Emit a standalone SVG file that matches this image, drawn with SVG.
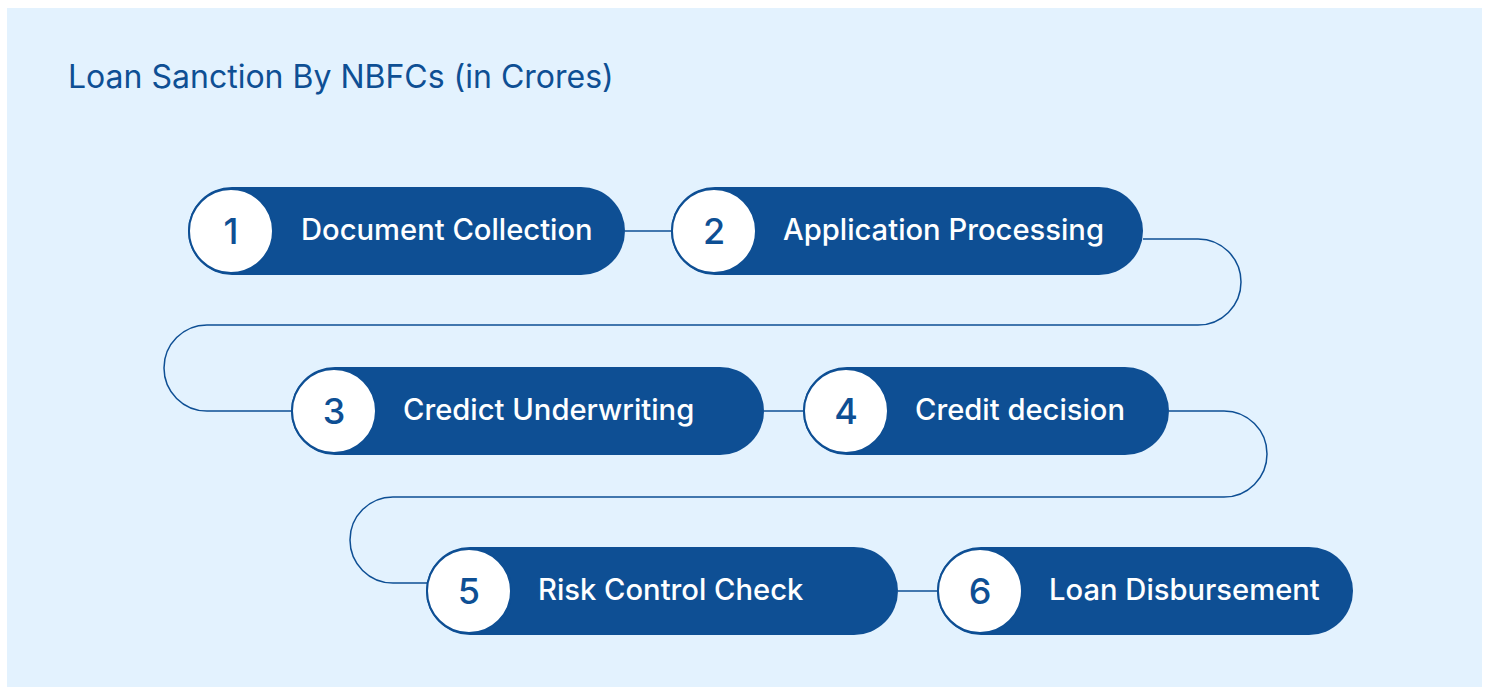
<svg xmlns="http://www.w3.org/2000/svg" width="1490" height="687" viewBox="0 0 1490 687">
  <style>
    .pill { fill: #0e4f94; }
    .badge { fill: #ffffff; stroke: #0e4f94; stroke-width: 2; }
    .num { font-family: Inter, "Liberation Sans", sans-serif; font-size: 36px; font-weight: 500; fill: #0e4f94; text-anchor: middle; }
    .label { font-family: Inter, "Liberation Sans", sans-serif; font-size: 29.2px; font-weight: 500; fill: #ffffff; }
    .title { font-family: Inter, "Liberation Sans", sans-serif; font-size: 32px; fill: #0e4f94; }
    .link { fill: none; stroke: #0e4f94; stroke-width: 1.5; }
  </style>

  <rect x="0" y="0" width="1490" height="687" fill="#ffffff"/>
  <rect x="7" y="8" width="1475" height="679" fill="#e3f2fe"/>

  <text class="title" x="68" y="88">Loan Sanction By NBFCs (in Crores)</text>

  <!-- connectors between the steps -->
  <g id="connectors">
    <path class="link" d="M625 231 H672"/>
    <path class="link" d="M1143 239 H1198 A43 43 0 0 1 1198 325 H207 A43 43 0 0 0 207 411 H292"/>
    <path class="link" d="M764 411 H803"/>
    <path class="link" d="M1169 411 H1224 A43 43 0 0 1 1224 497 H393 A43 43 0 0 0 393 583 H428"/>
    <path class="link" d="M898 591 H938"/>
  </g>

  <g id="step1">
    <rect class="pill" x="188" y="187" width="437" height="88" rx="44"/>
    <circle class="badge" cx="231" cy="231" r="42"/>
    <text class="num" x="231" y="244">1</text>
    <text class="label" x="301" y="240">Document Collection</text>
  </g>

  <g id="step2">
    <rect class="pill" x="671" y="187" width="472" height="88" rx="44"/>
    <circle class="badge" cx="714" cy="231" r="42"/>
    <text class="num" x="714" y="244">2</text>
    <text class="label" x="783" y="240">Application Processing</text>
  </g>

  <g id="step3">
    <rect class="pill" x="291" y="367" width="473" height="88" rx="44"/>
    <circle class="badge" cx="334" cy="411" r="42"/>
    <text class="num" x="334" y="424">3</text>
    <text class="label" x="403" y="420">Credict Underwriting</text>
  </g>

  <g id="step4">
    <rect class="pill" x="803" y="367" width="366" height="88" rx="44"/>
    <circle class="badge" cx="846" cy="411" r="42"/>
    <text class="num" x="846" y="424">4</text>
    <text class="label" x="915" y="420">Credit decision</text>
  </g>

  <g id="step5">
    <rect class="pill" x="426" y="547" width="472" height="88" rx="44"/>
    <circle class="badge" cx="469" cy="591" r="42"/>
    <text class="num" x="469" y="604">5</text>
    <text class="label" x="538" y="600">Risk Control Check</text>
  </g>

  <g id="step6">
    <rect class="pill" x="937" y="547" width="416" height="88" rx="44"/>
    <circle class="badge" cx="980" cy="591" r="42"/>
    <text class="num" x="980" y="604">6</text>
    <text class="label" x="1049" y="600">Loan Disbursement</text>
  </g>
</svg>
